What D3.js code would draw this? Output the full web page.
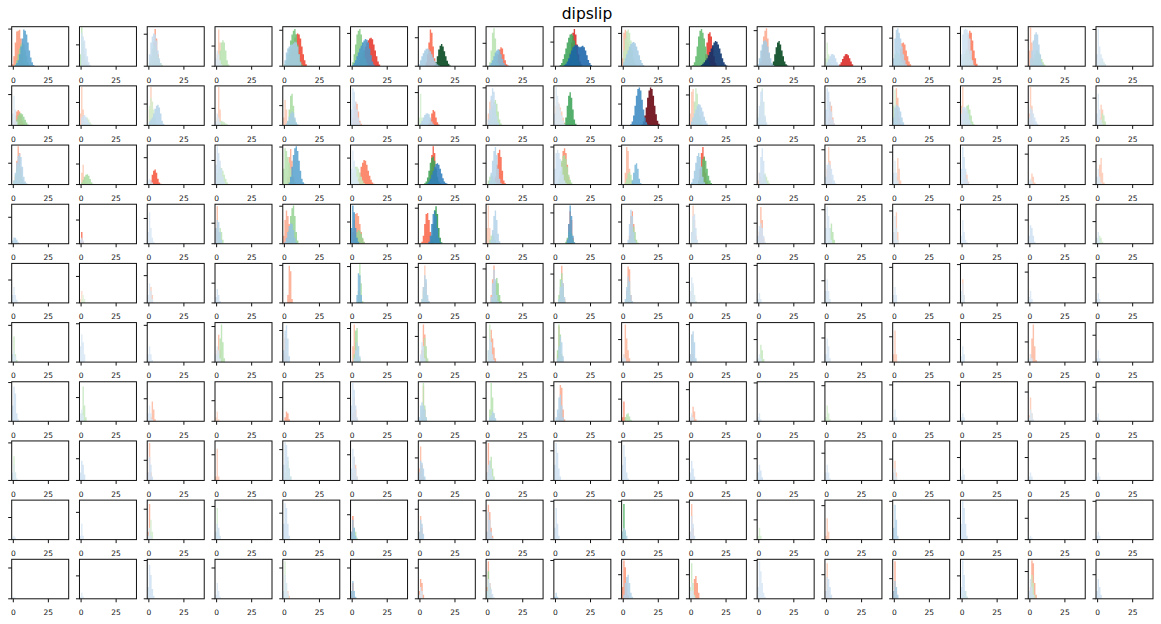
<!DOCTYPE html>
<html>
<head>
<meta charset="utf-8">
<script src="https://cdn.jsdelivr.net/npm/d3@7"></script>
<style>
  html, body { margin: 0; padding: 0; background: #fff; }
  svg { display: block; font-family: "DejaVu Sans", sans-serif; }
</style>
</head>
<body>
<script>
// ---------------- DATA ----------------
const title = "dipslip";
const xTicks = [0, 25];
// series: [colormap, level, first bin start, bin heights (% of panel height), 1-unit bins]
const row1 = [
 [["R",.35,-1,[5,25,60,88,90,92,70,30,8]],["G",.4,1,[5,15,30,45,55,60,55,40,25,10,3]],["B",.55,1,[3,8,15,30,50,70,93,90,80,60,40,22,10,3]]],
 [["G",.3,-1,[30,98,60,30,15,5]],["B",.2,0,[85,75,65,45,25,10,3]]],
 [["R",.35,2,[20,60,94,70,30,8]],["G",.3,0,[10,25,45,55,50,35,25,15,8,3]],["B",.25,0,[30,60,75,83,80,65,40,20,8]]],
 [["R",.2,0,[30,93,60,10]],["G",.3,1,[10,40,60,66,60,40,15,4]],["B",.15,-1,[20,40,30,15,5]]],
 [["R",.6,1,[3,8,15,30,45,60,72,80,83,80,70,50,30,15,5]],["G",.5,0,[5,15,30,45,65,80,90,94,80,55,30,12,4]],["B",.35,0,[15,35,45,50,54,55,58,62,60,50,30,10]]],
 [["R",.65,2,[3,6,10,15,22,30,40,50,60,66,70,72,68,55,40,25,12,4]],["G",.45,0,[10,30,55,80,90,94,80,60,40,20,8]],["B",.6,0,[3,8,15,25,35,45,52,60,65,69,67,60,45,28,12,4]]],
 [["R",.5,4,[10,30,60,93,85,50,20,5]],["G",1,10,[3,10,25,42,52,56,50,38,25,14,6,2]],["B",.35,-1,[5,15,25,33,40,44,45,42,38,30,22,14,8,4,2]]],
 [["R",.5,5,[5,15,30,42,48,45,30,15,5,2]],["G",.3,1,[10,40,85,96,70,30,8]],["B",.45,1,[3,8,15,25,35,40,43,40,30,18,8,3]]],
 [["R",.7,8,[5,15,35,60,85,94,80,55,30,12,4]],["G",.65,3,[3,8,18,30,45,60,72,80,82,78,65,45,28,15,6,2]],["B",.8,6,[3,6,12,20,30,40,48,52,54,53,50,48,50,52,48,40,28,16,8,3]]],
 [["R",.25,-1,[20,85,92,88,60,30,10]],["G",.25,0,[40,70,88,93,85,65,40,20,8]],["B",.35,0,[10,20,30,40,50,56,60,61,58,50,40,28,16,8,3]]],
 [["R",.65,9,[10,30,60,82,86,75,50,25,8,2]],["G",.55,1,[3,10,25,50,75,90,94,85,70,50,30,15,6,2]],["B",1,7,[3,6,10,15,20,28,36,45,53,60,64,62,55,45,32,20,10,4,2]]],
 [["R",.3,1,[10,40,75,90,96,70,30,8]],["G",1,9,[4,12,30,48,60,64,55,40,25,12,5,2]],["B",.35,-1,[5,20,40,55,63,66,62,50,35,20,8,3]]],
 [["R",.7,9,[4,10,18,25,30,31,28,20,12,5]],["G",.2,-1,[20,60,30,10,5]],["B",.25,0,[10,18,25,30,31,28,20,10,4]]],
 [["R",.4,2,[5,20,45,58,60,55,40,25,12,5]],["G",.25,0,[30,40,35,30,20,10,4]],["B",.3,-1,[20,70,92,96,85,70,50,30,15,5]]],
 [["R",.45,2,[10,40,80,90,85,65,40,20,6]],["G",.3,0,[20,30,40,45,40,30,18,8]],["B",.2,-1,[30,80,92,95,92,85,70,40,15,3]]],
 [["R",.25,-1,[40,98,60,20]],["G",.3,1,[5,15,30,40,40,35,28,18,10,4]],["B",.3,0,[20,40,65,80,86,80,55,30,10,3]]],
 [["B",.15,-1,[30,95,50,30,20,10,5]],["G",.2,1,[10,20,15,10,5]]]
];
const row2 = [
 [["R",.35,0,[10,25,35,39,35,25,12,4]],["G",.4,1,[5,15,25,30,31,28,22,14,7,2]],["B",.15,-1,[30,75,40,10]]],
 [["R",.2,-1,[30,97,40,10]],["G",.2,1,[5,12,18,20,15,8,3]],["B",.2,0,[20,25,26,22,15,8,3]]],
 [["R",.2,0,[40,97,60,20,5]],["G",.2,0,[50,70,60,40,20,8]],["B",.3,0,[10,15,20,30,42,50,52,45,30,12,4]]],
 [["R",.2,0,[20,97,40,5]],["G",.25,1,[5,10,12,10,8,5,3]],["B",.15,-1,[10,30,20,8]]],
 [["R",.2,-1,[20,64,40,10]],["G",.35,2,[10,40,75,80,50,15,4]],["B",.35,1,[5,12,22,30,35,32,20,8,3]]],
 [["R",.3,0,[20,50,60,55,35,12,4]],["B",.2,-1,[40,94,85,60,40,20,8]]],
 [["R",.5,6,[5,15,30,39,35,20,8,2]],["G",.2,-1,[20,80,20]],["B",.3,0,[5,12,20,26,30,31,28,20,10,4]]],
 [["R",.2,0,[30,60,65,50,30,10]],["G",.3,1,[10,25,45,60,64,55,35,15,5]],["B",.25,0,[15,40,75,94,85,55,25,8]]],
 [["R",.2,0,[50,60,55,45,35,20,8]],["G",.65,6,[5,20,50,75,84,70,40,15,4]],["B",.15,-1,[30,97,75,55,40,25,12,4]]],
 [["R",1,13,[3,10,25,45,70,88,96,92,75,50,28,12,4]],["B",.65,5,[3,10,25,50,75,92,96,88,65,40,20,8,2]]],
 [["R",.2,-1,[30,85,92,60,20]],["G",.25,1,[20,60,94,80,50,25,10]],["B",.3,0,[10,20,30,40,50,54,52,45,35,22,12,5]]],
 [["G",.2,0,[30,60,94,60,20]],["B",.2,-1,[20,50,85,90,60,25,8]]],
 [["R",.25,1,[20,60,50,20,5]],["B",.2,-1,[40,94,85,60,35,15,5]]],
 [["R",.25,0,[30,94,70,20,5]],["G",.2,-1,[50,90,40,10]],["B",.3,-1,[20,45,52,50,45,35,20,8]]],
 [["R",.2,-1,[50,97,40,10]],["G",.3,1,[15,35,50,52,40,25,10,3]],["B",.2,-1,[30,45,47,45,40,30,15,5]]],
 [["R",.2,-1,[30,97,50,10]],["B",.2,-1,[20,45,40,30,20,10,4]]],
 [["R",.2,1,[20,52,40,10]],["G",.25,2,[10,30,25,10]],["B",.15,-1,[30,80,40,15,5]]]
];
const row3 = [
 [["R",.3,1,[20,60,97,80,40,12,3]],["G",.3,0,[10,25,40,50,45,30,15,5]],["B",.3,0,[10,30,55,72,78,70,45,20,8,3]]],
 [["R",.2,0,[30,50,20,5]],["G",.35,0,[5,12,20,25,26,22,14,6,2]]],
 [["R",.55,1,[10,25,35,38,30,15,5,2]],["B",.15,-1,[10,15,10,5]]],
 [["G",.25,0,[30,40,45,42,35,25,15,6,2]],["B",.2,-1,[50,97,80,60,40,20,8]]],
 [["R",.3,2,[20,70,90,60,20,5]],["G",.3,-1,[40,92,85,70,55,40,25,12,5]],["B",.55,3,[5,20,45,75,92,97,85,60,35,15,6,2]]],
 [["R",.45,3,[5,15,30,45,55,62,60,50,35,22,12,5,2]],["G",.25,0,[30,40,45,45,40,30,20,10,4]],["B",.15,-1,[40,86,60,40,20,8]]],
 [["R",.55,6,[10,35,75,97,80,40,12,3]],["G",.65,3,[3,8,18,35,55,68,71,60,40,20,8,3]],["B",.7,5,[3,8,15,25,35,45,52,54,50,40,28,16,8,4,2]]],
 [["R",.5,4,[5,20,50,80,88,70,35,10,3]],["G",.3,0,[10,20,25,22,15,8,3]],["B",.3,1,[10,30,60,85,95,75,40,15,4]]],
 [["R",.4,3,[20,55,85,92,80,50,20,5]],["G",.35,1,[5,15,35,60,72,75,65,45,25,12,5]],["B",.2,-1,[40,80,88,80,65,45,25,10,3]]],
 [["R",.25,1,[30,95,85,40,10]],["G",.3,1,[5,15,28,32,25,12,4]],["B",.45,6,[10,30,50,54,40,15,4]]],
 [["R",.55,5,[10,40,80,95,70,30,8]],["G",.55,5,[5,20,45,65,71,60,40,22,10,4]],["B",.35,0,[5,15,35,55,72,80,70,45,20,6]]],
 [["R",.2,-1,[10,30,20,5]],["G",.25,2,[10,25,28,20,10,3]],["B",.2,0,[30,70,92,60,25,8]]],
 [["R",.2,0,[40,95,60,15]],["B",.2,-1,[20,50,56,50,40,25,10,3]]],
 [["R",.2,1,[20,67,40,10]],["B",.15,-1,[30,60,30,10]]],
 [["R",.2,1,[15,32,25,8]],["B",.2,-1,[40,95,70,40,15,5]]],
 [["R",.2,0,[10,28,20,5]],["B",.15,-1,[10,15,8]]],
 [["R",.2,0,[15,50,67,30,5]],["B",.15,-1,[20,40,20,5]]]
];
const row4 = [
 [["B",.3,-1,[8,16,15,10,4]]],
 [["R",.5,-1,[5,30,5]],["B",.2,-1,[10,15,8]]],
 [["B",.15,-1,[30,80,40,15,5]]],
 [["R",.25,-1,[40,95,30,5]],["G",.3,1,[20,40,30,10]],["B",.3,-1,[40,60,55,30,10]]],
 [["R",.3,-1,[20,60,84,70,50,25,8]],["G",.4,2,[10,35,70,90,97,70,30,8]],["B",.4,0,[5,15,30,45,52,50,35,15,4]]],
 [["R",.35,0,[30,60,75,78,70,50,30,12,4]],["G",.4,1,[10,20,30,35,33,25,15,5]],["B",.6,-1,[40,97,80,40,15,5]]],
 [["R",.5,1,[5,20,50,75,78,60,30,10,3]],["G",.7,7,[5,20,50,85,95,75,40,15,4]],["B",.65,6,[5,20,50,75,82,70,40,15,4]]],
 [["R",.2,-1,[40,97,40,10]],["G",.3,1,[10,20,25,20,10]],["B",.3,2,[10,35,70,84,60,25,6]]],
 [["R",.5,8,[10,50,82,60,15]],["G",.5,7,[5,15,30,35,25,10,3]],["B",.55,8,[10,50,97,70,20,4]]],
 [["R",.35,4,[20,70,82,50,10]],["G",.35,4,[5,15,35,43,30,10,3]],["B",.3,3,[10,50,86,70,30,8]]],
 [["R",.2,0,[30,97,60,20]],["G",.2,0,[20,60,40,10]],["B",.2,0,[30,70,75,40,10]]],
 [["R",.25,0,[30,93,60,15]],["B",.2,-1,[20,45,52,40,20,5]]],
 [["G",.3,1,[10,40,51,30,10]],["B",.15,-1,[40,94,70,40,10]]],
 [["R",.2,0,[30,80,30]],["B",.15,-1,[30,70,40,10]]],
 [["B",.15,-1,[20,60,30,10,4]]],
 [["B",.2,-1,[20,47,40,20,5]]],
 [["G",.2,0,[10,20,15,5]],["B",.15,-1,[15,30,10]]]
];
const row5 = [
 [["B",.15,-1,[20,40,20,8]]],
 [["R",.15,-1,[10,30,10]],["G",.15,0,[10,20,10]]],
 [["R",.2,0,[15,40,20]],["B",.15,-1,[20,50,30,10]]],
 [["B",.2,-1,[15,35,20,5]]],
 [["R",.3,2,[20,94,80,10]]],
 [["G",.3,4,[30,98,50,5]],["B",.45,3,[20,75,70,20]]],
 [["R",.2,2,[40,95,50,10]],["G",.25,1,[10,30,40,20,5]],["B",.3,1,[10,40,70,60,20,5]]],
 [["R",.3,2,[20,60,95,50,10]],["G",.4,3,[10,30,55,63,50,20,5]],["B",.3,2,[15,50,84,60,20,4]]],
 [["R",.3,3,[30,94,50,10]],["G",.35,2,[20,60,75,40,5]],["B",.3,2,[10,40,58,50,15]]],
 [["R",.3,2,[30,92,85,20]],["G",.25,2,[20,50,30,5]],["B",.3,1,[10,40,67,55,20,5]]],
 [["R",.2,-1,[10,30,20]],["G",.2,0,[20,40,20,5]],["B",.15,-1,[30,65,50,20,5]]],
 [["B",.15,-1,[10,25,10]]],
 [["B",.15,-1,[30,60,30,10]]],
 [["B",.15,-1,[20,40,20]]],
 [["R",.2,-1,[20,60,20]],["B",.15,-1,[30,50,20]]],
 [["B",.15,-1,[15,30,10]]],
 [["B",.15,-1,[10,25,10]]]
];
const row6 = [
 [["G",.25,-1,[20,65,20,5]],["B",.15,-1,[20,30,15]]],
 [["B",.15,-1,[40,70,50,20]]],
 [["B",.15,-1,[20,40,20,5]]],
 [["R",.25,0,[30,69,30,5]],["G",.3,1,[20,60,95,50,10]],["B",.15,-1,[20,40,30,10]]],
 [["R",.2,-1,[20,61,20]],["B",.25,-1,[30,80,93,60,15]]],
 [["R",.25,0,[40,95,50,10]],["G",.35,1,[20,80,86,40,10]],["B",.3,1,[10,30,50,40,15]]],
 [["R",.3,1,[30,95,70,15]],["G",.3,1,[10,40,61,40,10]],["B",.2,0,[20,50,40,10]]],
 [["R",.3,1,[20,82,60,37,10]],["G",.25,0,[30,95,50,10]],["B",.2,0,[30,60,50,20,5]]],
 [["R",.25,1,[20,90,60,15]],["G",.35,1,[30,95,70,20]],["B",.3,1,[10,40,65,50,15]]],
 [["R",.25,0,[20,95,60,30,10]],["B",.15,-1,[10,20,10]]],
 [["R",.2,-1,[20,70,20]],["B",.3,-1,[20,70,78,50,10]]],
 [["G",.25,0,[10,44,30,8]],["B",.15,-1,[10,20,10]]],
 [["B",.15,-1,[20,60,40,10]]],
 [["R",.2,-1,[20,80,20]]],
 [["B",.15,-1,[15,40,20]]],
 [["R",.25,0,[20,60,95,40,5]],["B",.15,-1,[10,20,10]]],
 [["B",.15,-1,[10,30,10]]]
];
const row7 = [
 [["B",.2,-1,[40,88,70,20,5]]],
 [["G",.25,0,[20,88,40,10]],["B",.15,-1,[20,30,15]]],
 [["R",.25,1,[10,50,30,5]],["B",.15,-1,[20,40,20,5]]],
 [["R",.15,-1,[10,25,5]]],
 [["R",.3,0,[10,25,20,5]]],
 [["R",.25,0,[20,60,30,5]],["B",.2,-1,[40,97,80,40,10]]],
 [["R",.25,1,[20,90,30,5]],["G",.3,1,[30,97,40,10]],["B",.3,-1,[10,40,48,40,30,10]]],
 [["G",.3,1,[30,97,60,20,5]],["B",.3,1,[10,15,25,20,8]]],
 [["R",.3,2,[20,92,85,30,5]],["B",.3,0,[10,30,60,67,40,10]]],
 [["R",.4,-1,[10,50,10]],["G",.3,1,[10,18,20,12,4]]],
 [["R",.25,0,[15,37,25,5]],["B",.15,-1,[10,20,10]]],
 [["B",.15,-1,[10,20,5]]],
 [["G",.2,-1,[10,40,20,5]]],
 [["B",.15,-1,[10,30,10]]],
 [["B",.15,-1,[10,20,10]]],
 [["R",.2,-1,[15,60,20]],["B",.15,-1,[10,30,20,5]]],
 [["B",.15,-1,[10,20,5]]]
];
const row8 = [
 [["G",.2,-1,[10,61,20]],["B",.15,-1,[20,40,20,5]]],
 [["B",.2,-1,[20,50,40,15]]],
 [["R",.25,-1,[20,95,20]],["B",.2,-1,[20,60,40,10]]],
 [["R",.2,-1,[10,80,10]]],
 [["G",.25,0,[20,40,50,30,10]],["B",.2,-1,[40,97,90,60,30,10]]],
 [["R",.2,0,[20,60,40,10]],["B",.2,-1,[30,80,60,30,10]]],
 [["R",.25,-1,[30,86,40,10]],["B",.3,-1,[20,50,45,30,10]]],
 [["R",.3,-1,[20,95,40,10]],["G",.3,0,[20,50,60,30,10]],["B",.2,-1,[20,40,50,30,10]]],
 [["B",.2,-1,[40,95,70,30,10]]],
 [["B",.2,-1,[40,90,60,20,5]]],
 [["B",.2,-1,[20,50,30,10]]],
 [["B",.2,-1,[20,40,25,8]]],
 [["B",.15,-1,[20,40,20,5]]],
 [["R",.2,-1,[10,50,20]],["B",.15,-1,[20,30,10]]],
 [["B",.15,-1,[10,30,15]]],
 [["B",.15,-1,[10,20,10]]],
 [["B",.15,-1,[10,20,10]]]
];
const row9 = [
 [["B",.15,-1,[5,10,5]]],
 [["B",.15,-1,[10,40,10]]],
 [["R",.3,-1,[20,90,10]],["G",.2,0,[20,50,20]],["B",.15,-1,[10,30,10]]],
 [["G",.2,-1,[20,80,20]],["B",.2,-1,[20,40,30,10]]],
 [["B",.2,-1,[40,92,80,40,10]]],
 [["R",.4,-1,[20,60,10]],["G",.3,0,[10,30,20,5]],["B",.4,-1,[20,50,30,10]]],
 [["R",.25,-1,[20,60,30]],["B",.3,-1,[20,50,40,15]]],
 [["R",.3,-1,[20,88,70,30,10]],["B",.25,-1,[20,70,50,20,5]]],
 [["B",.2,-1,[30,80,40,10]]],
 [["G",.6,-1,[20,90,20]],["B",.3,-1,[20,30,25,10]]],
 [["R",.25,-1,[20,90,30]],["B",.2,-1,[20,60,40,10]]],
 [["G",.2,-1,[10,30,10]]],
 [["R",.2,-1,[10,54,20]]],
 [["B",.3,-1,[30,88,50,10]]],
 [["B",.2,-1,[40,97,80,40,10]]],
 [["B",.15,-1,[5,10,5]]],
 [["B",.15,-1,[10,20,10]]]
];
const row10 = [
 [["B",.15,-1,[3,5,3]]],
 [["B",.15,-1,[5,15,5]]],
 [["B",.2,-1,[30,86,60,25,8]]],
 [["B",.15,-1,[10,40,20,5]]],
 [["R",.2,0,[5,15,20,8]],["G",.2,-1,[20,95,40,10]],["B",.15,-1,[20,60,40,15]]],
 [["R",.4,-1,[10,40,5]],["B",.4,-1,[20,45,20,5]]],
 [["R",.3,-1,[20,50,40,10]],["B",.15,-1,[10,30,20]]],
 [["R",.3,-1,[30,95,40,10]],["G",.4,-1,[20,70,30,5]],["B",.2,-1,[20,50,40,25,12,4]]],
 [["B",.3,-1,[5,15,5]]],
 [["R",.35,-1,[30,97,80,40,10]],["B",.3,0,[10,40,55,61,40,15,5]]],
 [["R",.35,1,[20,50,58,40,15]],["G",.25,-1,[30,90,40,10]],["B",.15,-1,[20,40,20,5]]],
 [["B",.15,-1,[30,95,70,40,15,5]]],
 [["R",.2,-1,[20,90,20]],["B",.2,-1,[20,55,50,30,10]]],
 [["R",.3,-1,[20,95,20]],["B",.35,-1,[20,45,30,10]]],
 [["G",.25,0,[10,20,20,5]],["B",.2,-1,[30,97,60,20,5]]],
 [["R",.3,0,[30,97,90,40,10]],["G",.25,0,[20,60,40,10]],["B",.2,-1,[20,50,30,10]]],
 [["B",.2,-1,[20,50,30,10]]]
];
// position of the single unlabeled y tick, as % of panel height
const yTickRows = [
 [94,54,81,51,91,83,72,58,61,83,56,90,83,71,83,66,93],
 [78,58,54,43,50,58,83,95,70,54,77,96,58,56,58,58,69],
 [54,52,68,61,95,67,52,54,95,97,54,97,88,82,54,77,58],
 [67,60,64,52,95,55,90,78,78,55,95,52,86,83,86,60,56],
 [58,67,69,50,95,92,90,86,73,58,52,95,56,90,97,78,64],
 [93,97,93,90,80,85,65,63,61,57,95,57,61,64,57,51,68],
 [98,60,57,52,60,58,58,58,90,56,80,97,90,92,91,74,86],
 [95,55,51,65,78,65,57,95,75,97,54,55,69,54,58,58,55],
 [56,69,77,84,67,63,77,73,97,97,95,50,86,97,54,54,97],
 [78,58,97,78,78,78,78,58,97,61,61,97,61,51,58,69,61]
];
const rows = [row1,row2,row3,row4,row5,row6,row7,row8,row9,row10];

// ---------------- DRAW ----------------
const W = 1161, H = 624;
const svg = d3.select("body").append("svg").attr("width", W).attr("height", H);
svg.append("rect").attr("width", W).attr("height", H).attr("fill", "#fff");

const colX = d3.scaleBand().domain(d3.range(17)).range([11.7, 1153]).paddingInner(0.159).paddingOuter(0);
const rowY = d3.scaleBand().domain(d3.range(10)).range([26.7, 598.8]).paddingInner(0.3325).paddingOuter(0);
const pw = colX.bandwidth(), ph = rowY.bandwidth();
const x = d3.scaleLinear().domain([-1.15, 39.5]).range([0, pw]);
const y = d3.scaleLinear().domain([0, 100]).range([ph, 0]);
const cmap = { R: d3.interpolateReds, G: d3.interpolateGreens, B: d3.interpolateBlues };
const order = { R: 0, G: 1, B: 2 };

const area = d3.area().curve(d3.curveStepAfter).x(d => x(d[0])).y0(y(0)).y1(d => y(d[1]));

svg.append("defs").append("clipPath").attr("id", "clip")
  .append("rect").attr("width", pw).attr("height", ph);

rows.forEach((row, r) => {
  row.forEach((panel, c) => {
    const g = svg.append("g").attr("transform", `translate(${colX(c)},${rowY(r)})`);
    const plot = g.append("g").attr("clip-path", "url(#clip)");
    panel.slice().sort((a, b) => order[a[0]] - order[b[0]]).forEach(s => {
      const [cm, lvl, x0, hs] = s;
      const pts = hs.map((v, i) => [x0 + i, v]);
      pts.push([x0 + hs.length, 0]);
      plot.append("path").attr("d", area(pts))
        .attr("fill", cmap[cm](lvl)).attr("fill-opacity", 0.88);
    });
    // frame
    g.append("rect").attr("width", pw).attr("height", ph)
      .attr("fill", "none").attr("stroke", "#111").attr("stroke-width", 1);
    // x axis ticks + labels
    const xa = g.append("g").attr("transform", `translate(0,${ph})`);
    xa.selectAll("line").data(xTicks).join("line")
      .attr("x1", d => x(d)).attr("x2", d => x(d)).attr("y1", 0).attr("y2", 3.5)
      .attr("stroke", "#111").attr("stroke-width", 1);
    xa.selectAll("text").data(xTicks).join("text")
      .attr("x", d => x(d)).attr("y", 16.4).attr("text-anchor", "middle")
      .attr("font-size", 7.5).attr("fill", "#111").text(d => d);
    // y ticks (0 and one unlabeled)
    g.selectAll("line.yt").data([0, yTickRows[r][c]]).join("line").attr("class", "yt")
      .attr("x1", -3.5).attr("x2", 0).attr("y1", d => y(d)).attr("y2", d => y(d))
      .attr("stroke", "#111").attr("stroke-width", 1);
  });
});

svg.append("text").attr("x", 587).attr("y", 19).attr("text-anchor", "middle")
  .attr("font-size", 15.5).attr("fill", "#000").text(title);
</script>
</body>
</html>
